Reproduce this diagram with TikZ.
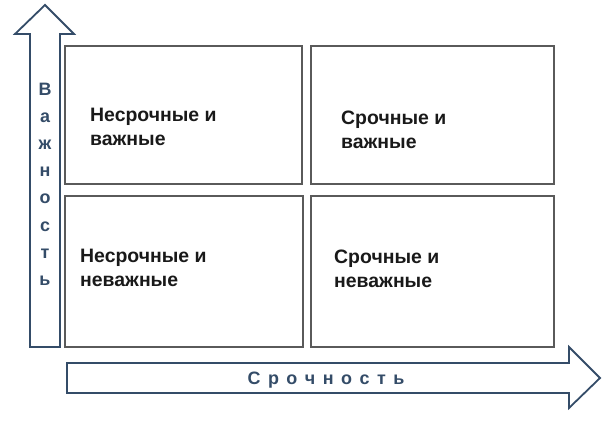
\documentclass[tikz,border=0pt]{standalone}
\usepackage{fontspec}
\setmainfont{Liberation Sans}
\usepackage{xcolor}
\usepackage{tikz}
\usetikzlibrary{shapes}

\definecolor{axisblue}{RGB}{52,76,104}
\definecolor{boxgray}{RGB}{90,90,90}
\definecolor{textblack}{RGB}{25,25,25}

\begin{document}
\begin{tikzpicture}[x=1bp,y=1bp,
    quad/.style={draw=boxgray,line width=1.2bp,inner sep=0pt},
    quadtext/.style={font=\bfseries\fontsize{19.5}{23.5}\selectfont,text=textblack,align=left,anchor=base west,inner sep=0pt},
    axisletter/.style={font=\bfseries\fontsize{18}{18}\selectfont,text=axisblue,anchor=base,inner sep=0pt}]

    \useasboundingbox (0bp,0bp) rectangle (604bp,-421bp);

    % arrows
    \draw [draw=axisblue,fill=white,line width=1.8bp,line join=miter]
        (30bp,-347bp) -- (30bp,-34bp) -- (15bp,-34bp) -- (45bp,-5bp)
        -- (74bp,-34bp) -- (60bp,-34bp) -- (60bp,-347bp) -- cycle;
    \draw [draw=axisblue,fill=white,line width=1.8bp,line join=miter]
        (67bp,-363bp) -- (569bp,-363bp) -- (569bp,-347bp) -- (600bp,-378bp)
        -- (569bp,-408bp) -- (569bp,-393bp) -- (67bp,-393bp) -- cycle;

    % quadrants
    \node (NI) at (183.5bp,-115bp)[quad,minimum width=237bp,minimum height=138bp] {};
    \node (SI) at (432.5bp,-115bp)[quad,minimum width=243bp,minimum height=138bp] {};
    \node (NU) at (184bp,-271.5bp)[quad,minimum width=238bp,minimum height=151bp] {};
    \node (SU) at (432.5bp,-271.5bp)[quad,minimum width=243bp,minimum height=151bp] {};

    % base is the last line
    \node (NI text) at (90bp,-145bp)[quadtext] {Несрочные и\\важные};
    \node (SI text) at (341bp,-148bp)[quadtext] {Срочные и\\важные};
    \node (NU text) at (80bp,-286bp)[quadtext] {Несрочные и\\неважные};
    \node (SU text) at (334bp,-287bp)[quadtext] {Срочные и\\неважные};

    % axis labels
    \foreach \ch [count=\i] in {В,а,ж,н,о,с,т,ь}
        \node (imp\i) at (45bp,{-95bp-(\i-1)*27.2bp})[axisletter] {\ch};
    \node (urgency) at (326bp,-384bp)[axisletter]
        {С\kern7.5bp р\kern7.5bp о\kern7.5bp ч\kern7.5bp н\kern7.5bp о\kern7.5bp с\kern7.5bp т\kern7.5bp ь};
\end{tikzpicture}
\end{document}
